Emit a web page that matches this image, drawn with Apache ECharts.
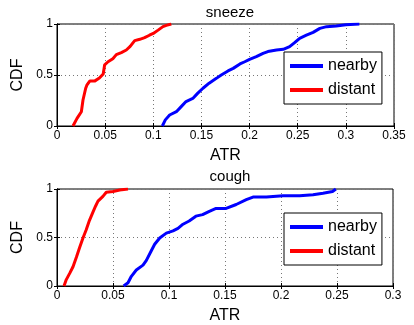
<!DOCTYPE html>
<html><head><meta charset="utf-8">
<script src="https://cdn.jsdelivr.net/npm/echarts@6/dist/echarts.min.js"></script>
<style>html,body{margin:0;padding:0;background:#fff}#c{width:414px;height:325px}</style>
</head><body><div id="c"></div>
<script>
const titles = ['sneeze', 'cough'];
const seriesNames = ['nearby', 'distant'];
const sneezeXTicks = [0, 0.05, 0.1, 0.15, 0.2, 0.25, 0.3, 0.35];
const coughXTicks = [0, 0.05, 0.1, 0.15, 0.2, 0.25, 0.3];
const yTicks = [0, 0.5, 1];

const sneezeDistantX = [0.0166,0.0208,0.0253,0.027,0.0298,0.031,0.034,0.039,0.044,0.048,0.0495,0.053,0.058,0.0616,0.0668,0.072,0.076,0.0807,0.086,0.091,0.096,0.100,0.105,0.110,0.1135,0.1187];
const sneezeDistantY = [0,0.075,0.14,0.255,0.37,0.40,0.44,0.44,0.47,0.51,0.60,0.63,0.66,0.70,0.72,0.745,0.78,0.837,0.85,0.866,0.89,0.908,0.94,0.974,0.987,1.0];
const sneezeNearbyX = [0.1094,0.1125,0.117,0.124,0.129,0.134,0.141,0.146,0.1516,0.158,0.1655,0.1706,0.1776,0.183,0.19,0.195,0.200,0.207,0.214,0.219,0.228,0.235,0.2416,0.2468,0.252,0.259,0.266,0.273,0.28,0.29,0.30,0.314];
const sneezeNearbyY = [0,0.06,0.108,0.14,0.19,0.24,0.27,0.32,0.37,0.42,0.467,0.5,0.54,0.565,0.608,0.63,0.654,0.68,0.712,0.73,0.745,0.752,0.778,0.817,0.86,0.89,0.918,0.957,0.974,0.98,0.993,1.0];
const coughDistantX = [0.00625,0.0083,0.0113,0.0143,0.0173,0.0202,0.0232,0.026,0.029,0.032,0.0345,0.0366,0.041,0.044,0.05,0.056,0.0634];
const coughDistantY = [0,0.066,0.13,0.198,0.297,0.396,0.495,0.578,0.677,0.759,0.825,0.875,0.924,0.967,0.974,0.99,1.0];
const coughNearbyX = [0.0595,0.0634,0.0664,0.0708,0.0768,0.0798,0.0842,0.0872,0.0917,0.0976,0.1036,0.108,0.1125,0.118,0.124,0.130,0.136,0.142,0.151,0.16,0.169,0.175,0.187,0.2018,0.2167,0.2286,0.2375,0.246,0.249];
const coughNearbyY = [0,0.033,0.1,0.165,0.215,0.264,0.363,0.43,0.495,0.545,0.568,0.594,0.637,0.67,0.72,0.736,0.77,0.80,0.80,0.84,0.89,0.917,0.917,0.93,0.93,0.94,0.957,0.974,1.0];

const zip = (xs, ys) => xs.map((x, i) => [x, ys[i]]);
const FONT = '"Liberation Sans", Arial, sans-serif';
const grids = [
  {left: 57, top: 24, width: 337, height: 102},
  {left: 57, top: 189, width: 336, height: 101}
];
const xTicksList = [sneezeXTicks, coughXTicks];
const xAxes = [], yAxes = [];
grids.forEach((g, i) => {
  const t = xTicksList[i];
  const base = {gridIndex: i, type: 'value', min: t[0], max: t[t.length-1], interval: 0.05};
  xAxes.push(Object.assign({}, base, {
    position: 'bottom', name: 'ATR', nameLocation: 'middle', nameGap: 22,
    nameTextStyle: {fontFamily: FONT, fontSize: 16, color: '#000'},
    axisLine: {show: true, lineStyle: {color: '#000', width: 1}},
    axisTick: {show: true, inside: true, length: 3, lineStyle: {color: '#000'}},
    axisLabel: {fontFamily: FONT, fontSize: 12, color: '#000', margin: 4},
    splitLine: {show: true, lineStyle: {color: '#777', type: [1, 3], width: 1}}
  }));
  xAxes.push(Object.assign({}, base, {
    position: 'top', axisLine: {show: true, lineStyle: {color: '#000'}},
    axisTick: {show: true, inside: true, length: 3, lineStyle: {color: '#000'}},
    axisLabel: {show: false}, splitLine: {show: false}
  }));
  const ybase = {gridIndex: i, type: 'value', min: 0, max: 1, interval: 0.5};
  yAxes.push(Object.assign({}, ybase, {
    position: 'left', name: 'CDF', nameLocation: 'middle', nameGap: 29,
    nameTextStyle: {fontFamily: FONT, fontSize: 16, color: '#000'},
    axisLine: {show: true, lineStyle: {color: '#000', width: 1}},
    axisTick: {show: true, inside: true, length: 3, lineStyle: {color: '#000'}},
    axisLabel: {fontFamily: FONT, fontSize: 12, color: '#000', margin: 4},
    splitLine: {show: true, lineStyle: {color: '#777', type: [1, 3], width: 1}}
  }));
  yAxes.push(Object.assign({}, ybase, {
    position: 'right', axisLine: {show: true, lineStyle: {color: '#000'}},
    axisTick: {show: true, inside: true, length: 3, lineStyle: {color: '#000'}},
    axisLabel: {show: false}, splitLine: {show: false}
  }));
});
const mk = (name, data, color, gi) => ({
  name, type: 'line', data, xAxisIndex: gi*2, yAxisIndex: gi*2,
  showSymbol: false, symbol: 'none', lineStyle: {color, width: 3}, itemStyle: {color},
  animation: false
});
const series = [
  mk(seriesNames[0], zip(sneezeNearbyX, sneezeNearbyY), '#0000ff', 0),
  mk(seriesNames[1], zip(sneezeDistantX, sneezeDistantY), '#ff0000', 0),
  mk(seriesNames[0], zip(coughNearbyX, coughNearbyY), '#0000ff', 1),
  mk(seriesNames[1], zip(coughDistantX, coughDistantY), '#ff0000', 1)
];
const legendBase = {
  data: seriesNames, orient: 'vertical', left: 284, itemWidth: 33, itemHeight: 4,
  icon: 'rect', itemGap: 8, padding: [6, 5, 6, 6],
  backgroundColor: '#fff', borderColor: '#000', borderWidth: 1,
  textStyle: {fontFamily: FONT, fontSize: 16, color: '#000'}, selectedMode: false
};
const chart = echarts.init(document.getElementById('c'));
chart.setOption({
  animation: false,
  title: [
    {text: titles[0], left: 225, top: 0, textAlign: 'center', textStyle: {fontFamily: FONT, fontSize: 15, fontWeight: 'normal', color: '#000'}},
    {text: titles[1], left: 225, top: 164, textAlign: 'center', textStyle: {fontFamily: FONT, fontSize: 15, fontWeight: 'normal', color: '#000'}}
  ],
  grid: grids.map(g => Object.assign({show: true, borderColor: '#000', borderWidth: 1, backgroundColor: '#fff'}, g)),
  xAxis: xAxes, yAxis: yAxes,
  legend: [Object.assign({}, legendBase, {top: 52}), Object.assign({}, legendBase, {top: 213})],
  series
});
</script></body></html>
